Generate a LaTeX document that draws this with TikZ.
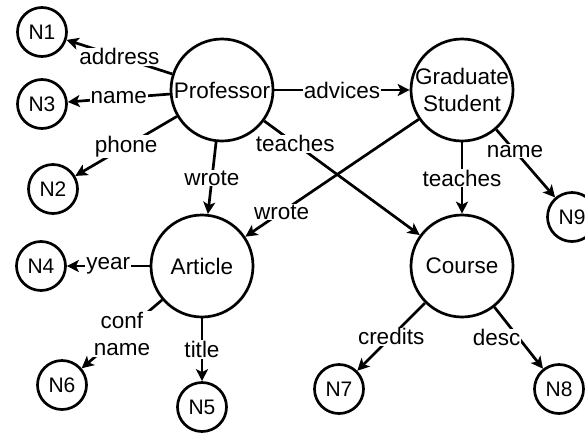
\documentclass[tikz,border=0pt]{standalone}
\usepackage{fontspec}
\setmainfont{Liberation Sans}
\usetikzlibrary{arrows.meta}

\tikzstyle{entity}=[draw,line width=2.7pt,circle,minimum size=102pt,inner sep=-3pt,align=center]
\tikzstyle{literal}=[draw,line width=2.7pt,circle,minimum size=49pt,inner sep=0pt,font=\fontsize{21}{24}\selectfont]
\tikzstyle{edge} = [draw,line width=2.7pt,-{Stealth[length=12pt,width=12pt,inset=3pt]}]
\tikzstyle{relname} = [fill=white,inner sep=1pt,align=center]

\begin{document}
\begin{tikzpicture}[x=1pt, y=-1pt, font=\fontsize{22.5}{27}\selectfont]
    \useasboundingbox (0,0) rectangle (585,434);
    % First we draw the vertices
    \foreach \pos/\name/\txt in {{(222,90)/prof/Professor}, {(462,90)/grad/{Graduate\\Student}},
                                 {(202,266)/article/Article}, {(462,266)/course/Course}}
        \node[entity] (\name) at \pos {\txt};
    \foreach \pos/\name in {{(42,32)/N1}, {(53,189)/N2}, {(42,104)/N3}, {(41,266)/N4}, {(202,407)/N5},
                            {(62,385)/N6}, {(339,389)/N7}, {(559,389)/N8}, {(572,217)/N9}}
        \node[literal] (\name) at \pos {\name};
    % Connect vertices with edges and draw relation names
    \foreach \source/ \dest /\rel/\where/\shift in {prof/N1/address/0.5/0, prof/N3/name/0.5/0,
            prof/N2/phone/0.5/0, prof/article/wrote/0.5/0, prof/grad/advices/0.5/0,
            prof/course/teaches/0.2/0, grad/article/wrote/0.79/0, grad/course/teaches/0.5/0,
            grad/N9/name/0.32/0, article/N4/year/0.5/0, article/N6/{conf\\name}/0.5/0,
            article/N5/title/0.5/0, course/N7/credits/0.5/0, course/N8/desc/0.5/-22}
        \path[edge] (\source) -- node[relname, pos=\where, xshift=\shift] {\rel} (\dest);
\end{tikzpicture}
\end{document}
